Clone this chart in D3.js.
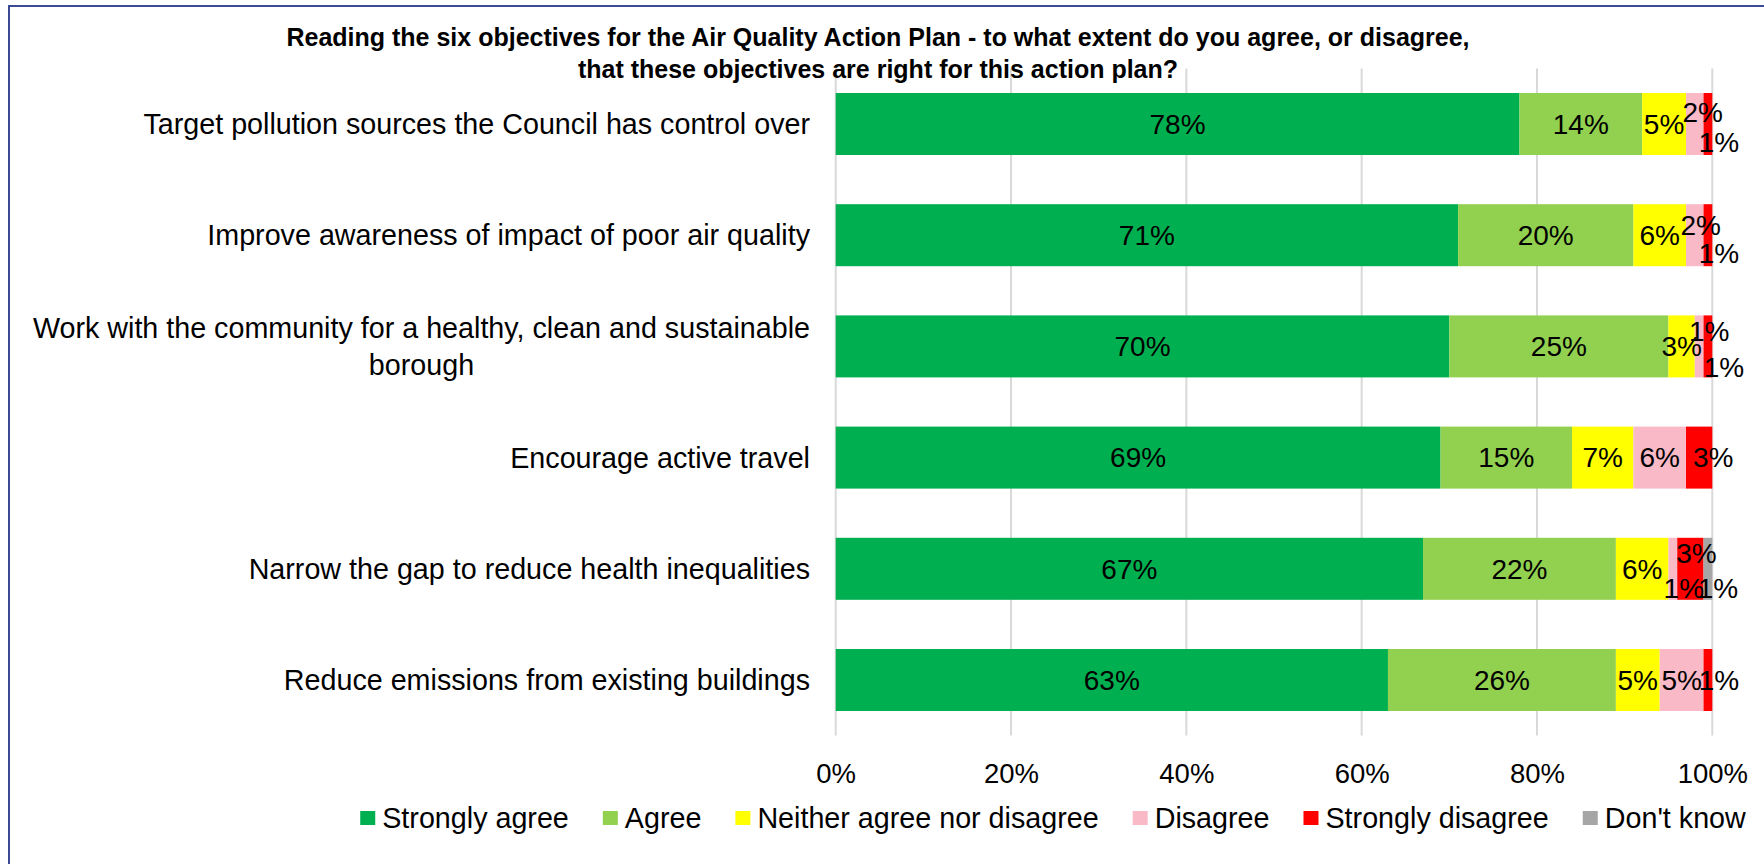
<!DOCTYPE html>
<html>
<head>
<meta charset="utf-8">
<script src="https://cdn.jsdelivr.net/npm/d3@7"></script>
<style>
  html, body { margin: 0; padding: 0; background: #ffffff; }
  svg { display: block; }
  text { font-family: "Liberation Sans", Arial, sans-serif; fill: #000; }
</style>
</head>
<body>
<script>
// ---- data ----
const categories = [
  "Target pollution sources the Council has control over",
  "Improve awareness of impact of poor air quality",
  "Work with the community for a healthy, clean and sustainable borough",
  "Encourage active travel",
  "Narrow the gap to reduce health inequalities",
  "Reduce emissions from existing buildings"
];
const seriesNames = ["Strongly agree", "Agree", "Neither agree nor disagree", "Disagree", "Strongly disagree", "Don't know"];
const stronglyAgree    = [78, 71, 70, 69, 67, 63];
const agree            = [14, 20, 25, 15, 22, 26];
const neither          = [5, 6, 3, 7, 6, 5];
const disagree         = [2, 2, 1, 6, 1, 5];
const stronglyDisagree = [1, 1, 1, 3, 3, 1];
const dontKnow         = [0, 0, 0, 0, 1, 0];
const tickValues = [0, 20, 40, 60, 80, 100];
const tickLabels = ["0%", "20%", "40%", "60%", "80%", "100%"];
const titleLines = [
  "Reading the six objectives for the Air Quality Action Plan - to what extent do you agree, or disagree,",
  "that these objectives are right for this action plan?"
];

// ---- styling ----
const colors = ["#00B050", "#92D050", "#FFFF00", "#F9B9C7", "#FF0000", "#A6A6A6"];
const W = 1764, H = 864;
const plot = { left: 835.7, right: 1712.3, top: 68.4, bottom: 735.6 };
const fsLabel = 28, fsTick = 27.5, fsCat = 28.7, fsLegend = 28.7, fsTitle = 25;

// manual offsets for crowded data labels: key "row-series" -> [dx, dy]
const labelNudge = {
  "0-3": [8, -12], "0-4": [11, 18],
  "1-3": [6, -10], "1-4": [11, 18],
  "2-3": [10, -15], "2-4": [16, 21],
  "3-4": [14, 0],
  "4-3": [11, 19], "4-4": [6, -16], "4-5": [10, 19],
  "5-4": [11, 0]
};

const seriesValues = [stronglyAgree, agree, neither, disagree, stronglyDisagree, dontKnow];
const rows = categories.map((c, i) => {
  const r = { category: c };
  seriesNames.forEach((s, j) => { r[s] = seriesValues[j][i]; });
  return r;
});
const stacked = d3.stack().keys(seriesNames)(rows);

const svg = d3.select("body").append("svg").attr("width", W).attr("height", H);

// frame
svg.append("rect")
  .attr("x", 9).attr("y", 6).attr("width", W + 20).attr("height", H + 20)
  .attr("fill", "#fff").attr("stroke", "#3B4A93").attr("stroke-width", 2);

const x = d3.scaleLinear().domain([0, 100]).range([plot.left, plot.right]);
const y = d3.scaleBand().domain(categories).range([plot.top, plot.bottom])
  .paddingInner(0.4424).paddingOuter(0.2212);

// gridlines
svg.append("g").selectAll("line").data(tickValues).join("line")
  .attr("x1", d => x(d)).attr("x2", d => x(d))
  .attr("y1", plot.top).attr("y2", plot.bottom)
  .attr("stroke", "#D9D9D9").attr("stroke-width", 2);

// x axis tick labels
const xAxis = d3.axisBottom(x).tickValues(tickValues)
  .tickFormat((d, i) => tickLabels[i]).tickSize(0).tickPadding(0);
const gx = svg.append("g").attr("transform", `translate(0,${plot.bottom})`).call(xAxis);
gx.select(".domain").remove();
gx.selectAll("text")
  .attr("y", 38).attr("dy", "0.35em")
  .attr("font-size", fsTick).attr("font-family", "Liberation Sans, Arial, sans-serif").attr("fill", "#000");

// bars
const layers = svg.append("g").selectAll("g").data(stacked).join("g")
  .attr("fill", (d, i) => colors[i]);
layers.selectAll("rect").data(d => d).join("rect")
  .attr("x", d => x(d[0]))
  .attr("width", d => x(d[1]) - x(d[0]))
  .attr("y", d => y(d.data.category))
  .attr("height", y.bandwidth());

// data labels
stacked.forEach((layer, si) => {
  layer.forEach((d, ri) => {
    const v = d[1] - d[0];
    if (v <= 0) return;
    const n = labelNudge[`${ri}-${si}`] || [0, 0];
    svg.append("text")
      .attr("x", x((d[0] + d[1]) / 2) + n[0])
      .attr("y", y(d.data.category) + y.bandwidth() / 2 + n[1])
      .attr("dy", "0.35em")
      .attr("text-anchor", "middle")
      .attr("font-size", fsLabel)
      .text(v + "%");
  });
});

// category labels (wrapped, lines centred inside a right-aligned box)
const catRight = 810, catMax = 790, lineGap = 37;
categories.forEach(cat => {
  const probe = svg.append("text").attr("font-size", fsCat).attr("visibility", "hidden");
  const words = cat.split(" ");
  const lines = [];
  let cur = "";
  words.forEach(w => {
    const t = cur ? cur + " " + w : w;
    probe.text(t);
    if (probe.node().getComputedTextLength() > catMax && cur) { lines.push(cur); cur = w; }
    else cur = t;
  });
  lines.push(cur);
  const widths = lines.map(l => { probe.text(l); return probe.node().getComputedTextLength(); });
  probe.remove();
  const boxW = d3.max(widths);
  const cy = y(cat) + y.bandwidth() / 2;
  lines.forEach((l, k) => {
    svg.append("text")
      .attr("x", catRight - boxW / 2)
      .attr("y", cy + (k - (lines.length - 1) / 2) * lineGap)
      .attr("dy", "0.35em")
      .attr("text-anchor", "middle")
      .attr("font-size", fsCat)
      .text(l);
  });
});

// title
titleLines.forEach((t, k) => {
  svg.append("text")
    .attr("x", 878).attr("y", 37 + k * 32)
    .attr("dy", "0.35em")
    .attr("text-anchor", "middle")
    .attr("font-size", fsTitle).attr("font-weight", "bold")
    .text(t);
});

// legend
const legend = svg.append("g");
const mW = 15, mH = 14, mGap = 7, itemGap = 34, legY = 818;
let lx = 0;
seriesNames.forEach((s, i) => {
  const g = legend.append("g").attr("transform", `translate(${lx},0)`);
  g.append("rect").attr("x", 0).attr("y", legY - mH / 2).attr("width", mW).attr("height", mH).attr("fill", colors[i]);
  const t = g.append("text").attr("x", mW + mGap).attr("y", legY).attr("dy", "0.35em")
    .attr("font-size", fsLegend).text(s);
  lx += mW + mGap + t.node().getComputedTextLength() + itemGap;
});
const legW = lx - itemGap;
legend.attr("transform", `translate(${1053 - legW / 2},0)`);
</script>
</body>
</html>
